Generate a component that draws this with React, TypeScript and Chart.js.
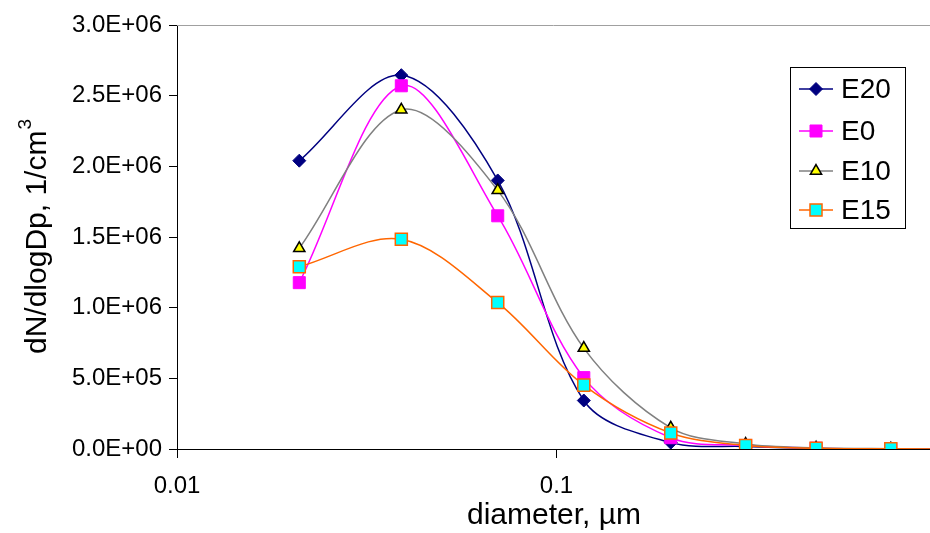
import React, { useEffect, useRef } from "react";
import { Chart, registerables } from "chart.js";

Chart.register(...registerables);

// Particle diameter (µm) of each size channel
const diameters = [0.021, 0.039, 0.07, 0.118, 0.2, 0.315, 0.483, 0.76, 1.2];

// dN/dlogDp, 1/cm3 per fuel blend
const e20 = [2.04e6, 2.645e6, 1.9e6, 0.343e6, 0.045e6, 0.018e6, 0.004e6, 0.001e6, 0];
const e0 = [1.177e6, 2.57e6, 1.65e6, 0.505e6, 0.08e6, 0.025e6, 0.006e6, 0.002e6, 0];
const e10 = [1.42e6, 2.4e6, 1.83e6, 0.714e6, 0.15e6, 0.035e6, 0.008e6, 0.002e6, 0];
const e15 = [1.29e6, 1.484e6, 1.036e6, 0.452e6, 0.113e6, 0.025e6, 0.006e6, 0.002e6, 0];

const seriesNames = ["E20", "E0", "E10", "E15"];

// Axis ticks
const xTicks = [0.01, 0.1];
const xMin = 0.01;
const xMax = 0.964;
const yMin = 0;
const yMax = 3e6;
const yStep = 5e5;

const FONT = "'Liberation Sans', Arial, Helvetica, sans-serif";

type Style = {
  line: string;
  fill: string;
  border: string;
  shape: string;
  radius: number;
  borderWidth: number;
};

const styles: Style[] = [
  { line: "#000080", fill: "#000080", border: "#000080", shape: "rectRot", radius: 6.5, borderWidth: 1 },
  { line: "#FF00FF", fill: "#FF00FF", border: "#FF00FF", shape: "rect", radius: 8.5, borderWidth: 1 },
  { line: "#808080", fill: "#FFFF00", border: "#000000", shape: "triangle", radius: 6.5, borderWidth: 1.5 },
  { line: "#FF6600", fill: "#00FFFF", border: "#FF6600", shape: "rect", radius: 8.5, borderWidth: 1.5 },
];

const seriesValues = [e20, e0, e10, e15];

function sci(v: number): string {
  const [m, e] = v.toExponential(1).split("e");
  const n = parseInt(e, 10);
  const sign = n < 0 ? "-" : "+";
  const abs = Math.abs(n).toString().padStart(2, "0");
  return `${m}E${sign}${abs}`;
}

// Marker shapes for the legend, same geometry as the chart's point styles
function drawMarker(ctx: CanvasRenderingContext2D, s: Style, x: number, y: number) {
  const r = s.radius;
  ctx.beginPath();
  if (s.shape === "rectRot") {
    ctx.moveTo(x - r, y);
    ctx.lineTo(x, y - r);
    ctx.lineTo(x + r, y);
    ctx.lineTo(x, y + r);
    ctx.closePath();
  } else if (s.shape === "triangle") {
    for (let k = 0; k < 3; k++) {
      const a = (k * 2 * Math.PI) / 3;
      const px = x + Math.sin(a) * r;
      const py = y - Math.cos(a) * r;
      if (k === 0) ctx.moveTo(px, py);
      else ctx.lineTo(px, py);
    }
    ctx.closePath();
  } else {
    const h = Math.SQRT1_2 * r;
    ctx.rect(x - h, y - h, 2 * h, 2 * h);
  }
  ctx.fillStyle = s.fill;
  ctx.fill();
  ctx.strokeStyle = s.border;
  ctx.lineWidth = s.borderWidth;
  ctx.stroke();
}

const decorPlugin = {
  id: "decor",
  afterDraw(chart: any) {
    const ctx: CanvasRenderingContext2D = chart.ctx;
    const area = chart.chartArea;
    ctx.save();

    // light frame along the top of the plot area
    ctx.strokeStyle = "#a0a0a0";
    ctx.lineWidth = 1;
    ctx.beginPath();
    ctx.moveTo(area.left, area.top + 0.5);
    ctx.lineTo(area.right, area.top + 0.5);
    ctx.stroke();

    // x-axis title
    ctx.fillStyle = "#000";
    ctx.font = `30px ${FONT}`;
    ctx.textAlign = "center";
    ctx.textBaseline = "middle";
    ctx.fillText("diameter, µm", 554, 516);

    // y-axis title with superscript
    const main = "dN/dlogDp, 1/cm";
    ctx.font = `30px ${FONT}`;
    const wMain = ctx.measureText(main).width;
    ctx.font = `19px ${FONT}`;
    const wSup = ctx.measureText("3").width;
    const total = wMain + wSup;
    ctx.translate(38, 237);
    ctx.rotate(-Math.PI / 2);
    ctx.textAlign = "left";
    ctx.font = `30px ${FONT}`;
    ctx.fillText(main, -total / 2, 0);
    ctx.font = `19px ${FONT}`;
    ctx.fillText("3", -total / 2 + wMain + 1, -12);
    ctx.setTransform(1, 0, 0, 1, 0, 0);

    // legend box
    const lx = 790, ly = 67, lw = 115, lh = 161;
    ctx.fillStyle = "#fff";
    ctx.fillRect(lx, ly, lw, lh);
    ctx.strokeStyle = "#000";
    ctx.lineWidth = 1;
    ctx.strokeRect(lx + 0.5, ly + 0.5, lw, lh);

    const rowY = [89, 131, 171, 210];
    seriesNames.forEach((name, i) => {
      const s = styles[i];
      const y = rowY[i];
      ctx.strokeStyle = s.line;
      ctx.lineWidth = 1.5;
      ctx.beginPath();
      ctx.moveTo(799, y);
      ctx.lineTo(833, y);
      ctx.stroke();
      drawMarker(ctx, s, 816, y);
      ctx.fillStyle = "#000";
      ctx.font = `28px ${FONT}`;
      ctx.textAlign = "left";
      ctx.textBaseline = "middle";
      ctx.fillText(name, 841, y + 1);
    });

    ctx.restore();
  },
};

export default function App() {
  const ref = useRef<HTMLCanvasElement | null>(null);

  useEffect(() => {
    document.body.style.margin = "0";
    const canvas = ref.current;
    if (!canvas) return;

    const datasets = seriesNames.map((name, i) => {
      const s = styles[i];
      return {
        label: name,
        data: diameters.map((d, k) => ({ x: d, y: seriesValues[i][k] })),
        borderColor: s.line,
        borderWidth: 1.5,
        backgroundColor: s.fill,
        pointBackgroundColor: s.fill,
        pointBorderColor: s.border,
        pointBorderWidth: s.borderWidth,
        pointStyle: s.shape,
        pointRadius: s.radius,
        tension: 0.33,
        fill: false,
        order: seriesNames.length - i,
      };
    });

    const chart = new Chart(canvas, {
      type: "line",
      data: { datasets },
      options: {
        animation: false,
        responsive: false,
        devicePixelRatio: 1,
        layout: { autoPadding: false, padding: { top: 25, right: 0, left: 0, bottom: 0 } },
        plugins: { legend: { display: false }, tooltip: { enabled: false } },
        scales: {
          x: {
            type: "logarithmic",
            min: xMin,
            max: xMax,
            afterBuildTicks: (scale: any) => {
              scale.ticks = xTicks.map((v) => ({ value: v }));
            },
            afterFit: (scale: any) => {
              scale.height = 84;
            },
            grid: { drawOnChartArea: false, drawTicks: true, tickLength: 9, color: "#000" },
            border: { display: true, color: "#000", width: 1 },
            ticks: {
              color: "#000",
              font: { family: FONT, size: 24 },
              padding: 14,
              maxRotation: 0,
              autoSkip: false,
              callback: (v: any) => String(v),
            },
          },
          y: {
            type: "linear",
            min: yMin,
            max: yMax,
            afterFit: (scale: any) => {
              scale.width = 177;
            },
            grid: { drawOnChartArea: false, drawTicks: true, tickLength: 8, color: "#000" },
            border: { display: true, color: "#000", width: 1 },
            ticks: {
              stepSize: yStep,
              color: "#000",
              font: { family: FONT, size: 24 },
              padding: 7,
              callback: (v: any) => sci(Number(v)),
            },
          },
        },
      },
      plugins: [decorPlugin],
    } as any);

    return () => chart.destroy();
  }, []);

  return (
    <div style={{ position: "absolute", left: 0, top: 0, width: 930, height: 533, background: "#fff" }}>
      <canvas ref={ref} width={930} height={533} />
    </div>
  );
}
